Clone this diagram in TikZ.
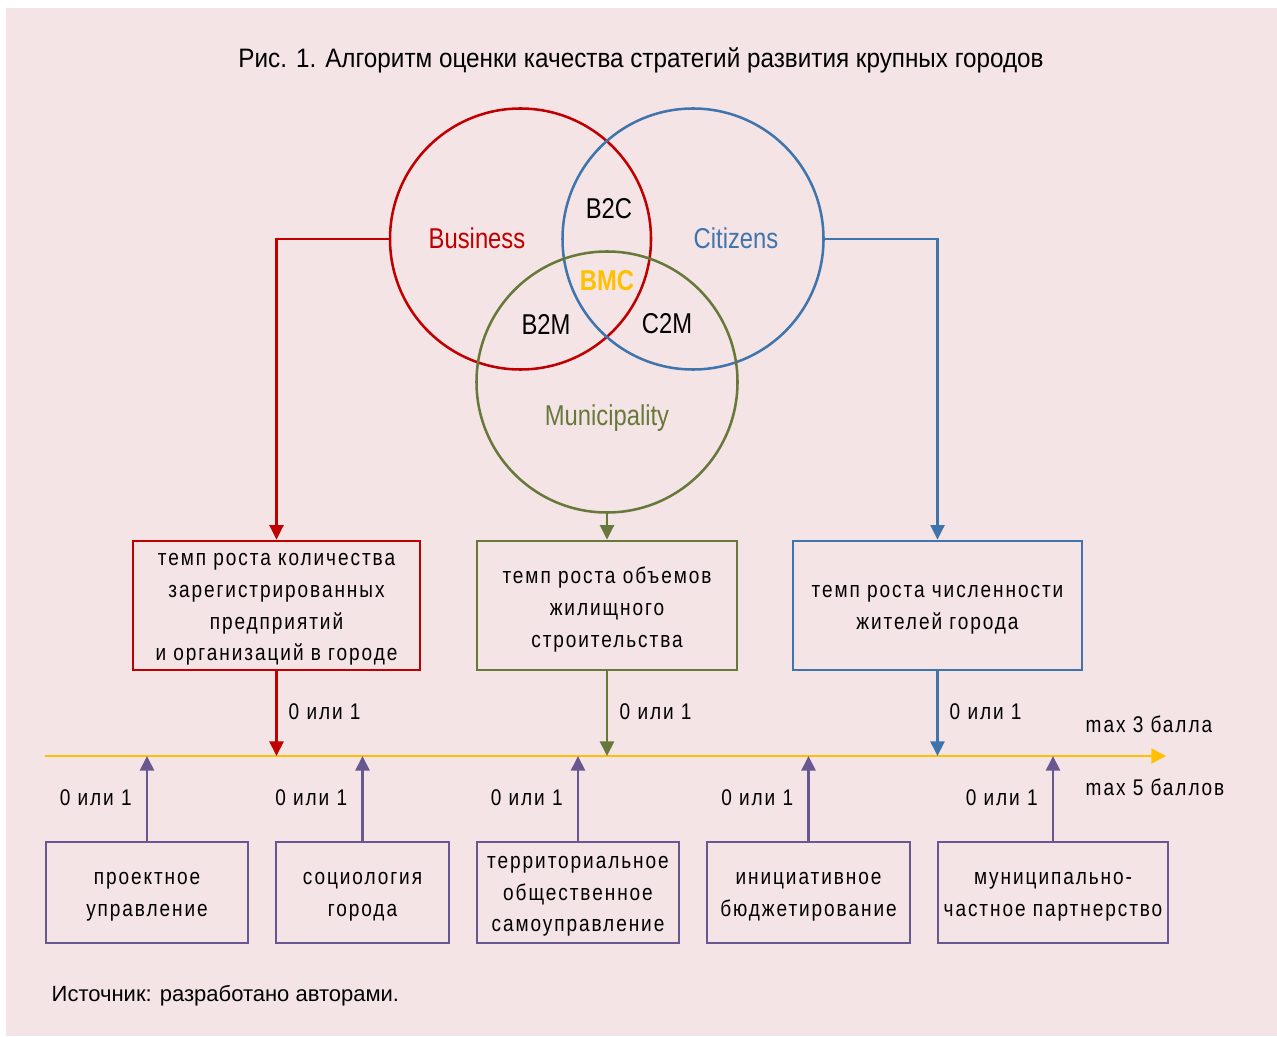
\documentclass[tikz,border=0pt]{standalone}
\usepackage{fontspec}
\setmainfont{Liberation Sans}
\newfontfamily\titlefont{Liberation Sans}[FakeStretch=0.91]
\newfontfamily\narrowfont{Liberation Sans}[FakeStretch=0.83]
\newfontfamily\spacedfont{Liberation Sans}[FakeStretch=0.84,LetterSpace=8.5]
\usetikzlibrary{arrows.meta, positioning}

\definecolor{bgpink}{HTML}{F5E4E5}
\definecolor{bred}{HTML}{C00000}
\definecolor{cblue}{HTML}{3F74AD}
\definecolor{mgreen}{HTML}{66783A}
\definecolor{axisyellow}{HTML}{FFC000}
\definecolor{fpurple}{HTML}{685790}

\tikzset{
  setcircle/.style={circle, draw=#1, line width=1.9pt, minimum size=195.75pt, inner sep=0pt},
  setlabel/.style={text=#1, font=\narrowfont\fontsize{21.5}{24}\selectfont},
  boxtext/.style={align=center, inner sep=0pt, yshift=-3pt,
    font=\spacedfont\fontsize{17}{23.7}\selectfont},
  topbox/.style={draw=#1, line width=2pt, minimum height=96.75pt, inner sep=0pt},
  factorbox/.style={draw=fpurple, line width=2pt, minimum height=75.75pt, inner sep=0pt},
  arr/.style={draw=#1, line width=2pt, -{Triangle[length=11pt,width=10.5pt]}},
  score/.style={font=\spacedfont\fontsize{17}{20}\selectfont},
}

\begin{document}
\begin{tikzpicture}[x=0.75pt,y=-0.75pt]
  % Background
  \useasboundingbox (0,0) rectangle (1277,1037);
  \fill[white] (0,0) rectangle (1277,1037);
  \fill[bgpink] (6,8) rectangle (1277,1036);

  \node[font=\titlefont\fontsize{20}{24}\selectfont] (title) at (641,60)
    {Рис. 1. Алгоритм оценки качества стратегий развития крупных городов};

  % Venn diagram
  \node[setcircle=bred] (business) at (520.5,239) {};
  \node[setcircle=cblue] (citizens) at (693,239) {};
  \node[setcircle=mgreen] (municipality) at (607,382) {};
  \node[setlabel=bred] (businesslbl) at (477,238) {Business};
  \node[setlabel=cblue] (citizenslbl) at (736,238) {Citizens};
  \node[setlabel=mgreen] (municipalitylbl) at (607,418) {Municipality};
  \node[setlabel=black] (btoc) at (609,209) {B2C};
  \node[setlabel=axisyellow, font=\narrowfont\bfseries\fontsize{21.5}{24}\selectfont] (bmc) at (607,281) {BMC};
  \node[setlabel=black] (btom) at (546,324) {B2M};
  \node[setlabel=black] (ctom) at (667,324) {C2M};

  % Indicators
  \node[topbox=bred, minimum width=215.25pt,
    label={[boxtext]center:темп роста количества\\зарегистрированных\\предприятий\\и организаций в городе}]
    (firms) at (276.5,605.5) {};
  \node[topbox=mgreen, minimum width=195pt,
    label={[boxtext]center:темп роста объемов\\жилищного\\строительства}]
    (housing) at (607,605.5) {};
  \node[topbox=cblue, minimum width=216.75pt,
    label={[boxtext]center:темп роста численности\\жителей города}]
    (population) at (937.5,605.5) {};

  \draw[arr=bred] (business.west) -| (firms.north);
  \draw[arr=mgreen] (municipality.south) -- (housing.north);
  \draw[arr=cblue] (citizens.east) -| (population.north);

  % Score axis
  \coordinate (axisL) at (45,756);
  \coordinate (axisR) at (1166,756);
  \draw[draw=axisyellow, line width=2pt, -{Triangle[length=11pt,width=11pt]}] (axisL) -- (axisR);
  \node[score, anchor=west] (max3) at (1081,724) {max 3 балла};
  \node[score, anchor=west] (max5) at (1081,787) {max 5 баллов};

  \draw[arr=bred] (firms.south) -- (firms.south |- axisL);
  \draw[arr=mgreen] (housing.south) -- (housing.south |- axisL);
  \draw[arr=cblue] (population.south) -- (population.south |- axisL);
  \node[score, anchor=west] at (284,712) {0 или 1};
  \node[score, anchor=west] at (615,712) {0 или 1};
  \node[score, anchor=west] at (945,712) {0 или 1};

  % Management tools
  \node[factorbox, minimum width=151.5pt,
    label={[boxtext]center:проектное\\управление}] (project) at (147,892.5) {};
  \node[factorbox, minimum width=129.75pt,
    label={[boxtext]center:социология\\города}] (sociology) at (362.5,892.5) {};
  \node[factorbox, minimum width=151.5pt,
    label={[boxtext]center:территориальное\\общественное\\самоуправление}] (selfgov) at (578,892.5) {};
  \node[factorbox, minimum width=152.25pt,
    label={[boxtext]center:инициативное\\бюджетирование}] (budget) at (808.5,892.5) {};
  \node[factorbox, minimum width=172.5pt,
    label={[boxtext]center:муниципально-\\частное партнерство}] (partner) at (1053,892.5) {};

  \foreach \b in {project, sociology, selfgov, budget, partner}{
    \draw[arr=fpurple] (\b.north) -- (\b.north |- axisL);
    \node[score, anchor=east] at ([xshift=-8pt]\b.north |- 0,798) {0 или 1};
  }

  \node[anchor=west, font=\fontsize{16.5}{20}\selectfont] (source) at (47,996)
    {Источник: разработано авторами.};
\end{tikzpicture}
\end{document}
